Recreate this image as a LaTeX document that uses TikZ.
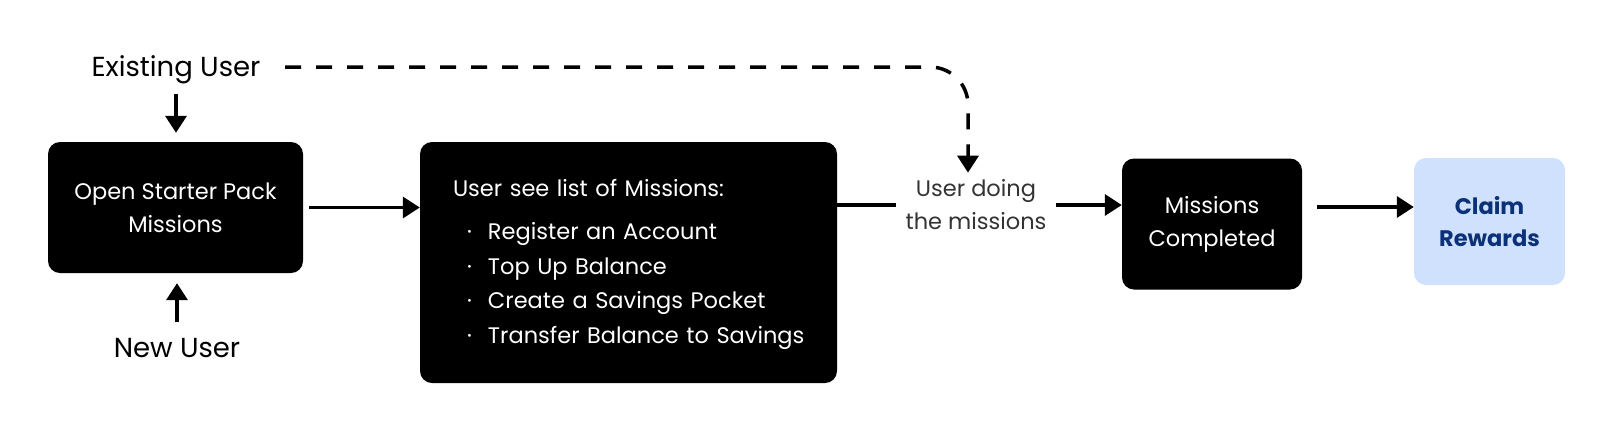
\documentclass[tikz,border=0pt]{standalone}
\usepackage{fontspec}
\setmainfont{Poppins}
\usetikzlibrary{arrows.meta}
\definecolor{navy}{HTML}{0B3278}
\definecolor{lightblue}{HTML}{CFE1FC}
\definecolor{midtext}{HTML}{333333}
\newcommand{\bulletline}[1]{\mbox{\makebox[35pt][l]{\hspace{14pt}·}#1}}
\begin{document}
\begin{tikzpicture}[x=1pt,y=-1pt,
  blackbox/.style={fill=black, rounded corners=12pt, text=white, align=center, inner sep=0pt,
    font=\fontsize{22.5}{33}\selectfont},
  bluebox/.style={fill=lightblue, rounded corners=12pt, text=navy, align=center, inner sep=0pt,
    font=\fontsize{22.5}{32}\selectfont\bfseries},
  usrlabel/.style={font=\fontsize{27.5}{30}\selectfont, text=black, anchor=base},
  conn/.style={line width=3.5pt, -{Triangle[length=17pt,width=21pt]}},
  plainline/.style={line width=3.5pt},
  dashline/.style={line width=3.5pt, dash pattern=on 16pt off 15pt}
]
\useasboundingbox (0,0) rectangle (1614,432);

\node[usrlabel] (existing) at (176,76) {Existing User};
\node[usrlabel] (new) at (177,357) {New User};

\node[blackbox, minimum width=255pt, minimum height=131pt] (open) at (175.5,207.5)
  {Open Starter Pack\\Missions};

\node[blackbox, minimum width=417pt, minimum height=241pt, text width=351pt, align=left,
  font=\fontsize{22.5}{34.5}\selectfont] (list) at (628.5,262.5)
  {\rule{0pt}{21.5pt}\mbox{User see list of Missions:}\\[8.5pt]
   \bulletline{Register an Account}\\
   \bulletline{Top Up Balance}\\
   \bulletline{Create a Savings Pocket}\\
   \bulletline{Transfer Balance to Savings}};

\node[align=center, text=midtext, font=\fontsize{22.5}{33}\selectfont, inner xsep=9pt, inner ysep=3pt]
  (doing) at (976,205) {User doing\\the missions};

\node[blackbox, minimum width=180pt, minimum height=131pt] (done) at (1212,224)
  {Missions\\Completed};

\node[bluebox, minimum width=151pt, minimum height=127pt] (claim) at (1489.5,221.5)
  {Claim\\Rewards};

\coordinate (bend) at (968,67);

\draw[conn, shorten <=7pt, shorten >=9pt] (existing.south) -- (existing.south |- open.north);
\draw[conn, shorten <=12pt, shorten >=10pt] (new.north) -- (new.north |- open.south);
\draw[conn, shorten <=6pt] (open.east) -- (open.east -| list.west);
\draw[plainline] (list.east |- doing.west) -- (doing.west);
\draw[conn] (doing.east) -- (doing.east -| done.west);
\draw[conn, shorten <=15pt] ([yshift=17pt]done.east) -- ([yshift=17pt]done.east -| claim.west);
\draw[dashline, rounded corners=38pt, -{Triangle[length=17pt,width=21pt]}, shorten <=21pt, shorten >=4pt]
  (existing.east |- bend) -- (bend) -- (bend |- doing.north);
\end{tikzpicture}
\end{document}
